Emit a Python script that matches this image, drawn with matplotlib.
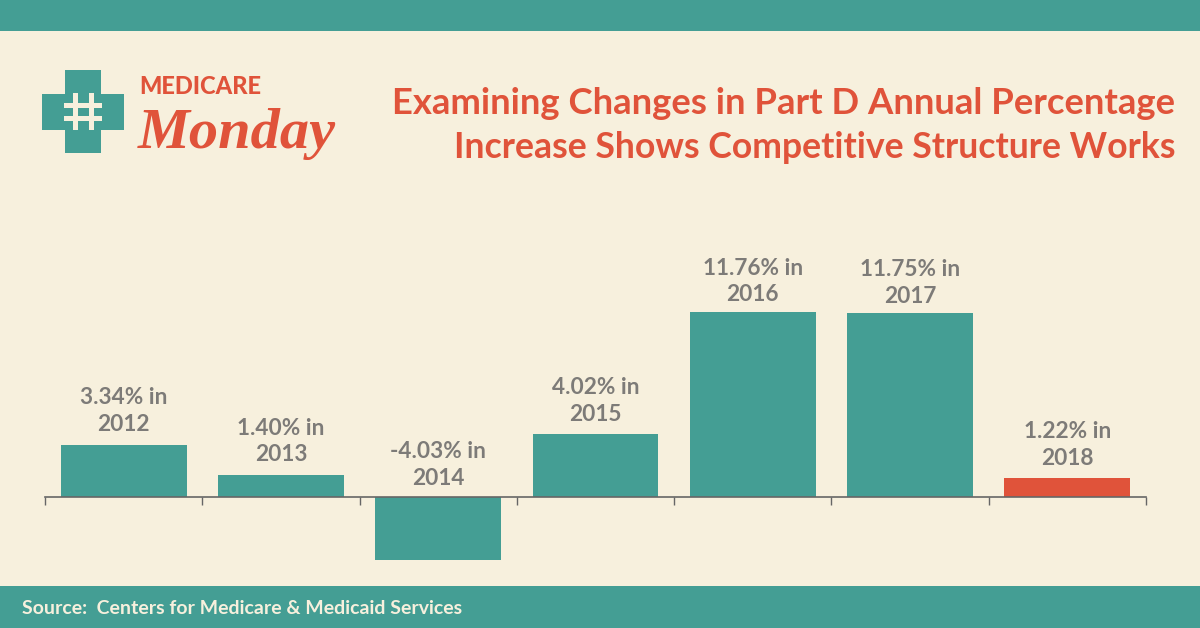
import matplotlib
matplotlib.use("Agg")
import matplotlib.pyplot as plt
from matplotlib.patches import Rectangle

years = ["2012", "2013", "2014", "2015", "2016", "2017", "2018"]
values = [3.34, 1.40, -4.03, 4.02, 11.76, 11.75, 1.22]
labels = ["3.34%", "1.40%", "-4.03%", "4.02%", "11.76%", "11.75%", "1.22%"]

title_lines = ["Examining Changes in Part D Annual Percentage",
               "Increase Shows Competitive Structure Works"]
source = "Source:  Centers for Medicare & Medicaid Services"

TEAL = "#449e94"
RED = "#e0533a"
CREAM = "#f7f0dd"
GREY = "#7d7b78"

W, H = 1200, 628
plt.rcParams["font.family"] = ["Lato", "DejaVu Sans"]

fig = plt.figure(figsize=(W / 100, H / 100), dpi=100, facecolor=CREAM)

# fond + bandeaux, en pixels de l'image
bg = fig.add_axes([0, 0, 1, 1])
bg.set_xlim(0, W)
bg.set_ylim(H, 0)
bg.axis("off")
bg.add_patch(Rectangle((0, 0), W, 31, color=TEAL, lw=0))
bg.add_patch(Rectangle((0, 586), W, 42, color=TEAL, lw=0))
bg.text(22, 609, source, color=CREAM, fontsize=14, fontweight="bold", va="center")

# logo : croix et diese
bg.add_patch(Rectangle((65, 70), 36, 83, color=TEAL, lw=0))
bg.add_patch(Rectangle((42, 94), 82, 36, color=TEAL, lw=0))
for hx in [73, 89]:
    bg.add_patch(Rectangle((hx, 93), 5, 37, color=CREAM, lw=0))
for hy in [103, 116]:
    bg.add_patch(Rectangle((64, hy), 38, 5, color=CREAM, lw=0))
bg.text(139, 87, "MEDICARE", color=RED, fontsize=17, fontweight="black", va="center")
bg.text(138, 134, "Monday", color=RED, fontsize=42, fontweight="bold", style="italic",
        family=["Liberation Serif", "DejaVu Serif"], va="center")

# titre
for line, y, size in zip(title_lines, [104, 148], [26.25, 25.7]):
    bg.text(1175, y, line, color=RED, fontsize=size, fontweight="bold", ha="right", va="center")

# graphique : 15.7 px par point de pourcentage, zero a y=497
ax = fig.add_axes([45 / W, 1 - 580 / H, (1146 - 45) / W, 380 / H])
ax.patch.set_alpha(0)
ax.set_xlim(-0.5, 6.5)
ax.set_ylim(-(580 - 497) / 15.7, (497 - 200) / 15.7)

colors = [TEAL] * 6 + [RED]
x = list(range(len(values)))
ax.bar(x, values, width=0.8, color=colors, linewidth=0)

# ecart etiquette / barre, en points
gaps = [7, 7, 6, 6.5, 5, 4, 6.5]
for i, v in enumerate(values):
    ax.annotate(f"{labels[i]} in\n{years[i]}", (i, max(v, 0)), xytext=(0, gaps[i]),
                textcoords="offset points", ha="center", va="bottom",
                color=GREY, fontsize=16.3, fontweight="bold", linespacing=1.33)

for side in ["left", "right", "top"]:
    ax.spines[side].set_visible(False)
ax.spines["bottom"].set_position(("data", 0))
ax.spines["bottom"].set_color("#666666")
ax.spines["bottom"].set_linewidth(1.2)
ax.set_yticks([])
ax.set_xticks([i - 0.5 for i in range(8)])
ax.set_xticklabels([])
ax.tick_params(axis="x", direction="out", length=6, width=1, color="#666666")

fig.savefig("out.png", dpi=100, facecolor=CREAM)
